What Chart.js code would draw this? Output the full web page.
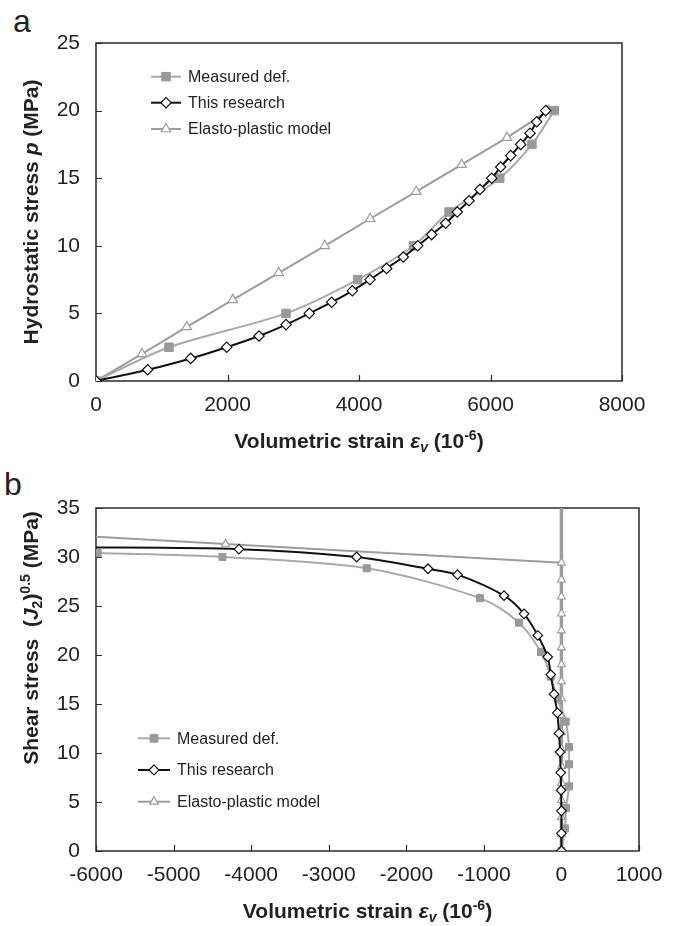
<!DOCTYPE html>
<html>
<head>
<meta charset="utf-8">
<script src="https://cdn.jsdelivr.net/npm/chart.js@4.4.0/dist/chart.umd.min.js"></script>
<style>
  body { margin: 0; background: #fff; width: 677px; height: 926px; position: relative; overflow: hidden; }
  .panel { position: absolute; left: 0; width: 677px; height: 463px; }
  .tag { position: absolute; font: 32px "Liberation Sans", Arial, sans-serif; line-height: 1; color: #222; }
</style>
</head>
<body>
<div class="tag" style="left:13px; top:5px">a</div>
<div class="tag" style="left:4px; top:468px">b</div>
<div class="panel" style="top:0"><canvas id="chartA" width="677" height="463"></canvas></div>
<div class="panel" style="top:463px"><canvas id="chartB" width="677" height="463"></canvas></div>
<script>
// ---- panel (a): hydrostatic loading ----
const aStrainTicks = [0, 2000, 4000, 6000, 8000];
const aStressTicks = [0, 5, 10, 15, 20, 25];
const aMeasuredStrain = [0, 1110, 2890, 3980, 4830, 5370, 6140, 6630, 6970];
const aMeasuredStress = [0, 2.5, 5, 7.5, 10, 12.5, 15, 17.5, 20];
const aResearchStrain = [0, 786, 1440, 1988, 2479, 2890, 3244, 3585, 3898, 4167, 4420, 4674, 4893,
                         5105, 5318, 5495, 5673, 5840, 6018, 6155, 6307, 6459, 6601, 6702, 6839];
const aResearchStress = [0, 0.83, 1.67, 2.5, 3.33, 4.17, 5, 5.83, 6.67, 7.5, 8.33, 9.17, 10,
                         10.83, 11.67, 12.5, 13.33, 14.17, 15, 15.83, 16.67, 17.5, 18.33, 19.17, 20];
const aElastoStrain = [0, 700, 1380, 2080, 2780, 3480, 4170, 4870, 5560, 6250, 6880];
const aElastoStress = [0, 2, 4, 6, 8, 10, 12, 14, 16, 18, 20];

// ---- panel (b): shear loading ----
const bStrainTicks = [-6000, -5000, -4000, -3000, -2000, -1000, 0, 1000];
const bStressTicks = [0, 5, 10, 15, 20, 25, 30, 35];
const bMeasuredStrain = [-5980, -4370, -2510, -1050, -547, -263, -138, -48, 55, 98, 98, 98, 59, 46, 0];
const bMeasuredStress = [30.4, 30.0, 28.85, 25.8, 23.3, 20.3, 17.8, 15.5, 13.2, 10.6, 8.85, 6.6, 4.4, 2.3, 0];
const bResearchStrain = [-6300, -4157, -2640, -1720, -1340, -740, -482, -305, -177, -138, -95, -53, -31, -18, -9, -5, 0, 0, 0];
const bResearchStress = [31.0, 30.8, 30.0, 28.8, 28.2, 26.05, 24.2, 22.0, 19.8, 18.0, 16.0, 14.1, 12.0, 10.1, 8.0, 6.2, 4.1, 1.8, 0];
const bElastoStrain = [0, 0, 0, 0, 0, 0, 0, 0, 0, 0, 0, 0, 0, 0, 0, 0, 0, 0, -4330, -6300];
const bElastoStress = [0, 1.73, 3.46, 5.19, 6.92, 8.65, 10.38, 12.11, 13.84, 15.57, 17.3, 19.03,
                       20.76, 22.49, 24.22, 25.95, 27.68, 29.41, 31.33, 32.2];
const bElasticLimitStrain = [0, 0];
const bElasticLimitStress = [29.41, 36];

const seriesNames = ['Measured def.', 'This research', 'Elasto-plastic model'];

const FONT = '"Liberation Sans", Arial, sans-serif';
Chart.defaults.font.family = FONT;
Chart.defaults.color = '#222';

const pts = (xs, ys) => xs.map((x, i) => ({ x: x, y: ys[i] }));

const GREY_LINE = '#a9a9a9';
const GREY_MARK = '#999999';
const ELASTO = '#9c9c9c';
const BLACK = '#111111';

// frame box and inward tick marks
const framePlugin = {
    id: 'frame',
    beforeDatasetsDraw(chart) {
        const { ctx, chartArea: a, scales: { x, y } } = chart;
        ctx.save();
        ctx.strokeStyle = '#2a2a2a';
        ctx.lineWidth = 1.5;
        ctx.strokeRect(a.left, a.top, a.right - a.left, a.bottom - a.top);
        ctx.beginPath();
        x.ticks.forEach(t => {
            const px = Math.round(x.getPixelForValue(t.value)) + 0.5;
            ctx.moveTo(px, a.bottom); ctx.lineTo(px, a.bottom - 6);
        });
        y.ticks.forEach(t => {
            const py = Math.round(y.getPixelForValue(t.value)) + 0.5;
            ctx.moveTo(a.left, py); ctx.lineTo(a.left + 6, py);
        });
        ctx.lineWidth = 1.2;
        ctx.stroke();
        ctx.restore();
    }
};

// mixed-style text (italic symbols, sub/superscripts)
function drawRich(ctx, parts, cx, cy, vertical) {
    ctx.save();
    ctx.translate(cx, cy);
    if (vertical) ctx.rotate(-Math.PI / 2);
    let total = 0;
    parts.forEach(p => { ctx.font = p.font; p.w = ctx.measureText(p.text).width; total += p.w; });
    let x = -total / 2;
    ctx.fillStyle = '#222';
    ctx.textBaseline = 'alphabetic';
    parts.forEach(p => { ctx.font = p.font; ctx.fillText(p.text, x, 7.5 + (p.dy || 0)); x += p.w; });
    ctx.restore();
}

const B = 'bold 21px ' + FONT;
const BI = 'bold italic 21px ' + FONT;
const BS = 'bold 14px ' + FONT;
const BIS = 'bold italic 14px ' + FONT;

const strainTitle = [
    { text: 'Volumetric strain ', font: B },
    { text: 'ε', font: BI },
    { text: 'v', font: BIS, dy: 4 },
    { text: ' (10', font: B },
    { text: '-6', font: BS, dy: -8 },
    { text: ')', font: B }
];

function titlesPlugin(xParts, xPos, yParts, yPos) {
    return {
        id: 'richTitles',
        afterDraw(chart) {
            drawRich(chart.ctx, xParts, xPos[0], xPos[1], false);
            drawRich(chart.ctx, yParts, yPos[0], yPos[1], true);
        }
    };
}

// hand-placed legend, like the original figure
function legendPlugin(styles, lineX0, lineX1, textX, rows) {
    return {
        id: 'fixedLegend',
        afterDraw(chart) {
            const ctx = chart.ctx;
            ctx.save();
            styles.forEach((s, i) => {
                const y = rows[i];
                ctx.strokeStyle = s.line;
                ctx.lineWidth = s.width;
                ctx.beginPath();
                ctx.moveTo(lineX0, y); ctx.lineTo(lineX1, y);
                ctx.stroke();
                ctx.fillStyle = s.fill;
                ctx.strokeStyle = s.stroke;
                ctx.lineWidth = s.pw;
                Chart.helpers.drawPoint(ctx, { pointStyle: s.style, radius: s.r, rotation: 0, borderWidth: s.pw }, (lineX0 + lineX1) / 2, y);
                ctx.fillStyle = '#222';
                ctx.font = '16px ' + FONT;
                ctx.textBaseline = 'middle';
                ctx.fillText(seriesNames[i], textX, y + 1);
            });
            ctx.restore();
        }
    };
}

function axes(xTicks, yTicks, xHeight) {
    const tickFont = { family: FONT, size: 21 };
    return {
        x: {
            type: 'linear',
            min: xTicks[0], max: xTicks[xTicks.length - 1],
            afterBuildTicks: s => { s.ticks = xTicks.map(v => ({ value: v })); },
            afterFit: s => { s.height = xHeight; },
            grid: { display: false, drawTicks: false },
            border: { display: false },
            ticks: { padding: 12, font: tickFont, color: '#222', maxRotation: 0, callback: v => String(v) }
        },
        y: {
            type: 'linear',
            min: yTicks[0], max: yTicks[yTicks.length - 1],
            afterBuildTicks: s => { s.ticks = yTicks.map(v => ({ value: v })); },
            afterFit: s => { s.width = 96; },
            grid: { display: false, drawTicks: false },
            border: { display: false },
            ticks: { padding: 16, font: tickFont, color: '#222', callback: v => String(v) }
        }
    };
}

const baseOptions = {
    responsive: false,
    animation: false,
    plugins: { legend: { display: false }, tooltip: { enabled: false } }
};

// ---------- chart a ----------
new Chart(document.getElementById('chartA'), {
    type: 'line',
    data: {
        datasets: [
            {
                label: seriesNames[1], data: pts(aResearchStrain, aResearchStress), order: 0,
                borderColor: BLACK, borderWidth: 2, tension: 0.3,
                pointStyle: 'rectRot', pointRadius: 5.2, pointBackgroundColor: '#fff',
                pointBorderColor: BLACK, pointBorderWidth: 1.2
            },
            {
                label: seriesNames[0], data: pts(aMeasuredStrain, aMeasuredStress), order: 1,
                borderColor: GREY_LINE, borderWidth: 2, tension: 0.3,
                pointStyle: 'rect', pointRadius: 6, pointBackgroundColor: GREY_MARK,
                pointBorderColor: GREY_MARK, pointBorderWidth: 1
            },
            {
                label: seriesNames[2], data: pts(aElastoStrain, aElastoStress), order: 2,
                borderColor: ELASTO, borderWidth: 2, tension: 0,
                pointStyle: 'triangle', pointRadius: 5.5, pointBackgroundColor: '#fff',
                pointBorderColor: ELASTO, pointBorderWidth: 1.2
            }
        ]
    },
    options: Object.assign({}, baseOptions, {
        layout: { padding: { left: 0, right: 55, top: 43, bottom: 0 } },
        scales: axes(aStrainTicks, aStressTicks, 82)
    }),
    plugins: [
        framePlugin,
        titlesPlugin(strainTitle, [359, 440.5],
            [{ text: 'Hydrostatic stress ', font: B }, { text: 'p', font: BI }, { text: ' (MPa)', font: B }], [30, 212]),
        legendPlugin([
            { line: GREY_LINE, width: 2, style: 'rect', r: 6, fill: GREY_MARK, stroke: GREY_MARK, pw: 1 },
            { line: BLACK, width: 2, style: 'rectRot', r: 5.2, fill: '#fff', stroke: BLACK, pw: 1.2 },
            { line: ELASTO, width: 2, style: 'triangle', r: 5.5, fill: '#fff', stroke: ELASTO, pw: 1.2 }
        ], 151, 181, 188, [76.7, 102.7, 129])
    ]
});

// ---------- chart b ----------
new Chart(document.getElementById('chartB'), {
    type: 'line',
    data: {
        datasets: [
            {
                label: seriesNames[1], data: pts(bResearchStrain, bResearchStress), order: 0,
                borderColor: BLACK, borderWidth: 2, tension: 0.3,
                pointStyle: 'rectRot', pointRadius: 4.8, pointBackgroundColor: '#fff',
                pointBorderColor: BLACK, pointBorderWidth: 1.2
            },
            {
                label: seriesNames[0], data: pts(bMeasuredStrain, bMeasuredStress), order: 1,
                borderColor: GREY_LINE, borderWidth: 2, tension: 0.3,
                pointStyle: 'rect', pointRadius: 5, pointBackgroundColor: GREY_MARK,
                pointBorderColor: GREY_MARK, pointBorderWidth: 1
            },
            {
                label: seriesNames[2], data: pts(bElastoStrain, bElastoStress), order: 2,
                borderColor: ELASTO, borderWidth: 2, tension: 0,
                segment: { borderWidth: c => c.p0.parsed.x === c.p1.parsed.x ? 3.5 : 2 },
                pointStyle: 'triangle', pointRadius: 4.6, pointBackgroundColor: '#fff',
                pointBorderColor: ELASTO, pointBorderWidth: 1.1
            },
            {
                label: 'Elastic limit', data: pts(bElasticLimitStrain, bElasticLimitStress), order: 3,
                borderColor: ELASTO, borderWidth: 3.5, pointRadius: 0
            }
        ]
    },
    options: Object.assign({}, baseOptions, {
        layout: { padding: { left: 0, right: 38, top: 45, bottom: 0 } },
        scales: axes(bStrainTicks, bStressTicks, 75)
    }),
    plugins: [
        framePlugin,
        titlesPlugin(strainTitle, [367.5, 447.5],
            [{ text: 'Shear stress  (', font: B }, { text: 'J', font: BI }, { text: '2', font: BS, dy: 4 },
             { text: ')', font: B }, { text: '0.5', font: BS, dy: -8 }, { text: ' (MPa)', font: B }], [30, 175]),
        legendPlugin([
            { line: GREY_LINE, width: 2, style: 'rect', r: 5.5, fill: GREY_MARK, stroke: GREY_MARK, pw: 1 },
            { line: BLACK, width: 2, style: 'rectRot', r: 5, fill: '#fff', stroke: BLACK, pw: 1.2 },
            { line: ELASTO, width: 2, style: 'triangle', r: 5, fill: '#fff', stroke: ELASTO, pw: 1.2 }
        ], 138, 170, 177, [275.3, 307, 338.7])
    ]
});
</script>
</body>
</html>
